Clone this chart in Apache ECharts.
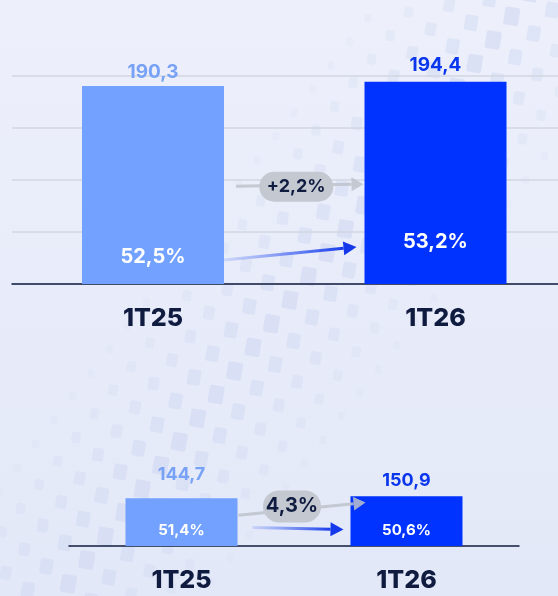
<!DOCTYPE html>
<html>
<head>
<meta charset="utf-8">
<script src="https://cdn.jsdelivr.net/npm/echarts@6/dist/echarts.min.js"></script>
<style>
  html, body { margin: 0; padding: 0; }
  #main { width: 558px; height: 596px; }
</style>
</head>
<body>
<div id="main"></div>
<script>
const categories = ['1T25', '1T26']
const revenueTop = [190.3, 194.4]
const marginTop = ['52,5%', '53,2%']
const growthTop = '+2,2%'
const revenueBottom = [144.7, 150.9]
const marginBottom = ['51,4%', '50,6%']
const growthBottom = '4,3%'

const FONT = 'Inter'
const barColors = ['#72a1ff', '#0033ff']
const valueColors = ['#78a2f6', '#0a36ee']
const dark = '#0f1c40'

const fmt = v => String(v).replace('.', ',')

function valueSeries (idx, values, barWidth, fontSize, distances) {
  return {
    type: 'bar',
    xAxisIndex: idx,
    yAxisIndex: idx,
    barWidth: barWidth,
    clip: false,
    z: 3,
    data: values.map((v, i) => ({
      value: v,
      itemStyle: { color: barColors[i] },
      label: { color: valueColors[i], distance: distances[i] }
    })),
    label: {
      show: true,
      position: 'top',
      fontFamily: FONT,
      fontWeight: 700,
      fontSize: fontSize,
      formatter: p => fmt(p.value)
    }
  }
}

function marginSeries (idx, values, margins, barWidth, fontSize, distances) {
  return {
    type: 'bar',
    xAxisIndex: idx,
    yAxisIndex: idx,
    barWidth: barWidth,
    barGap: '-100%',
    clip: false,
    z: 4,
    silent: true,
    itemStyle: { color: 'rgba(0,0,0,0)' },
    data: values.map((v, i) => ({ value: v, label: { distance: distances[i] } })),
    label: {
      show: true,
      position: 'insideBottom',
      color: '#ffffff',
      fontFamily: FONT,
      fontWeight: 700,
      fontSize: fontSize,
      formatter: p => margins[p.dataIndex]
    }
  }
}

const labelStyle = {
  color: dark,
  fontFamily: FONT,
  fontWeight: 800,
  fontSize: 25,
  margin: 22
}

const chart = echarts.init(document.getElementById('main'))

chart.setOption({
  animation: false,
  backgroundColor: {
    type: 'linear', x: 0, y: 0, x2: 0, y2: 1,
    colorStops: [{ offset: 0, color: '#edf0fb' }, { offset: 1, color: '#e3e8f8' }]
  },
  grid: [
    { left: 12, right: 0, top: 76, height: 208 },
    { left: 153, right: 122.5, top: 76, height: 208 },
    { left: 69, width: 450, top: 480, height: 66 }
  ],
  xAxis: [
    {
      type: 'category', gridIndex: 0, data: categories,
      axisTick: { show: false }, axisLabel: { show: false },
      axisLine: { lineStyle: { color: dark, width: 1.5 } }
    },
    {
      type: 'category', gridIndex: 1, data: categories, boundaryGap: false,
      axisTick: { show: false }, axisLine: { show: false }, axisLabel: labelStyle
    },
    {
      type: 'category', gridIndex: 2, data: categories,
      axisTick: { show: false },
      axisLine: { lineStyle: { color: dark, width: 1.5 } },
      axisLabel: labelStyle
    }
  ],
  yAxis: [
    {
      type: 'value', gridIndex: 0, min: 0, max: 200, interval: 50,
      axisLabel: { show: false }, axisLine: { show: false }, axisTick: { show: false },
      splitLine: { show: true, lineStyle: { color: '#d2d6e0', width: 1.5 } }
    },
    {
      type: 'value', gridIndex: 1, min: 0, max: 200,
      axisLabel: { show: false }, axisLine: { show: false }, axisTick: { show: false },
      splitLine: { show: false }
    },
    {
      type: 'value', gridIndex: 2, min: 0, max: 200,
      axisLabel: { show: false }, axisLine: { show: false }, axisTick: { show: false },
      splitLine: { show: false }
    }
  ],
  series: [
    valueSeries(1, revenueTop, 142, 19, [4, 7]),
    marginSeries(1, revenueTop, marginTop, 142, 20, [17, 32]),
    valueSeries(2, revenueBottom, 112, 18, [15, 7]),
    marginSeries(2, revenueBottom, marginBottom, 112, 15, [8, 8])
  ]
})

// annotations: arrows and growth pill, positioned via the axes
function px (idx, cat, val) {
  return chart.convertToPixel({ xAxisIndex: idx, yAxisIndex: idx }, [cat, val])
}

function arrow (p1, p2, stroke, head, width, headLen, headW) {
  const dx = p2[0] - p1[0]
  const dy = p2[1] - p1[1]
  const len = Math.hypot(dx, dy)
  const ux = dx / len
  const uy = dy / len
  const bx = p2[0] - ux * headLen
  const by = p2[1] - uy * headLen
  return [
    {
      type: 'line', z: 10,
      shape: { x1: p1[0], y1: p1[1], x2: bx, y2: by },
      style: { stroke: stroke, lineWidth: width, lineCap: 'butt' }
    },
    {
      type: 'polygon', z: 10,
      shape: { points: [p2, [bx - uy * headW, by + ux * headW], [bx + uy * headW, by - ux * headW]] },
      style: { fill: head }
    }
  ]
}

function pill (cx, cy, w, h, text, fontSize) {
  return [
    {
      type: 'rect', z: 11,
      shape: { x: cx - w / 2, y: cy - h / 2, width: w, height: h, r: h / 2 },
      style: { fill: '#c4c8d1' }
    },
    {
      type: 'text', z: 12, x: cx, y: cy,
      style: {
        text: text, fill: dark, fontFamily: FONT, fontWeight: 700,
        fontSize: fontSize, align: 'center', verticalAlign: 'middle'
      }
    }
  ]
}

const blueGrad = {
  type: 'linear', x: 0, y: 0, x2: 1, y2: 0,
  colorStops: [{ offset: 0, color: 'rgba(70,110,245,0.15)' }, { offset: 1, color: '#1438ea' }]
}

function annotations (idx, barWidth, cfg) {
  const half = barWidth / 2
  const r1 = px(idx, 0, 0)[0] + half
  const l2 = px(idx, 1, 0)[0] - half
  const mid = (r1 + l2) / 2
  let els = []
  els = els.concat(arrow(
    [r1 + cfg.grayStart, px(idx, 0, cfg.grayFrom)[1]],
    [l2 + cfg.grayEnd, px(idx, 0, cfg.grayTo)[1]],
    'rgba(190,194,202,0.85)', 'rgba(190,194,202,0.85)', 3, 12, 7))
  els = els.concat(arrow(
    [r1 + cfg.blueStart, px(idx, 0, cfg.blueFrom)[1]],
    [l2 + cfg.blueEnd, px(idx, 0, cfg.blueTo)[1]],
    blueGrad, '#1438ea', 3, 13, 7))
  els = els.concat(pill(mid + cfg.pillDx, px(idx, 0, cfg.pillAt)[1], cfg.pillW, cfg.pillH, cfg.text, cfg.fontSize))
  return els
}

// decorative background: diagonal band of small tilted squares
function backdrop () {
  const els = []
  const a = -52 * Math.PI / 180
  const ux = Math.cos(a)
  const uy = Math.sin(a)
  const nx = -uy
  const ny = ux
  const cx = 290
  const cy = 300
  for (let i = -16; i <= 16; i++) {
    for (let j = -4; j <= 4; j++) {
      const x = cx + ux * i * 30 + nx * j * 28
      const y = cy + uy * i * 30 + ny * j * 28
      const s = 15 - Math.abs(j) * 2
      els.push({
        type: 'rect', z: -5, silent: true,
        x: x, y: y, rotation: -a - Math.PI / 2 + 0.5,
        shape: { x: -s / 2, y: -s * 0.6, width: s, height: s * 1.2, r: 2 },
        style: { fill: '#cdd6f1', opacity: 0.55 - Math.abs(j) * 0.1 }
      })
    }
  }
  return els
}

chart.setOption({
  graphic: [].concat(
    backdrop(),
    annotations(1, 142, {
      grayStart: 12, grayEnd: -1, grayFrom: 94, grayTo: 96,
      blueStart: 0, blueEnd: -8, blueFrom: 23, blueTo: 35.5,
      pillDx: 2, pillAt: 93.5, pillW: 74, pillH: 30, text: growthTop, fontSize: 18
    }),
    annotations(2, 112, {
      grayStart: 1, grayEnd: 15, grayFrom: 93, grayTo: 132,
      blueStart: 15, blueEnd: -7, blueFrom: 56, blueTo: 50,
      pillDx: -2, pillAt: 120, pillW: 58, pillH: 32, text: growthBottom, fontSize: 20
    })
  )
})
</script>
</body>
</html>
